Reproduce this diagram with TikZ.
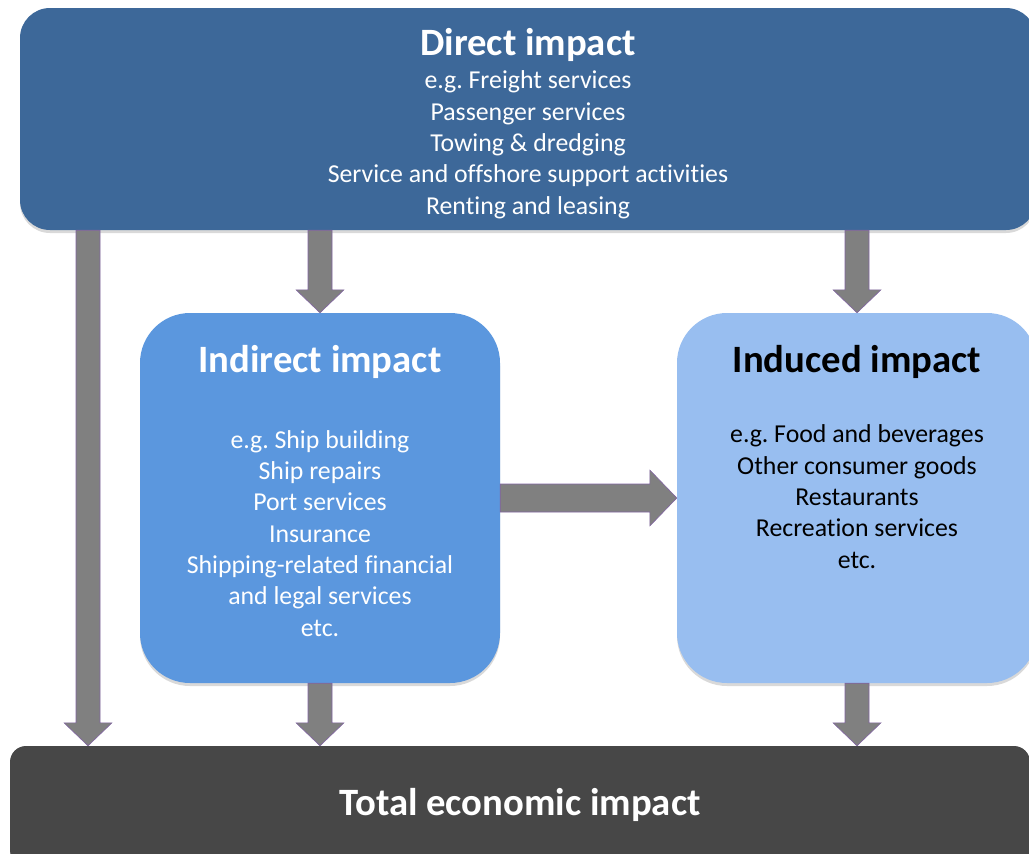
\documentclass[tikz,border=0pt]{standalone}
\usepackage{fontspec}
\setmainfont[Ligatures=NoCommon]{Carlito}
\frenchspacing
\usepackage{tikz}
\usetikzlibrary{calc,shadows}
\definecolor{directblue}{HTML}{3D6899}
\definecolor{indirectblue}{HTML}{5B97DE}
\definecolor{inducedblue}{HTML}{98BEF0}
\definecolor{totalgrey}{HTML}{474747}
\definecolor{arrowgrey}{HTML}{808080}
\definecolor{arrowline}{HTML}{8064A2}
% block arrows between two named points
\newcommand{\blockdown}[2]{%
  \draw[blockarrow] ($(#1)+(-12,0)$) -- ($(#2)+(-12,-23)$) -- ($(#2)+(-24,-23)$)
    -- (#2) -- ($(#2)+(24,-23)$) -- ($(#2)+(12,-23)$) -- ($(#1)+(12,0)$) -- cycle;}
\newcommand{\blockright}[2]{%
  \draw[blockarrow] ($(#1)+(0,-14)$) -- ($(#2)+(-27,-14)$) -- ($(#2)+(-27,-28)$)
    -- (#2) -- ($(#2)+(-27,28)$) -- ($(#2)+(-27,14)$) -- ($(#1)+(0,14)$) -- cycle;}

\begin{document}
\begin{tikzpicture}[x=1pt,y=-1pt,
  box/.style={rectangle,inner sep=0pt,
    drop shadow={opacity=0.3,shadow xshift=0pt,shadow yshift=-3pt}},
  title/.style={font=\fontsize{38.7}{46}\selectfont\bfseries,anchor=base,inner sep=0pt},
  body/.style={font=\fontsize{25.8}{31.3}\selectfont,align=center,anchor=base,inner sep=0pt},
  blockarrow/.style={fill=arrowgrey,draw=arrowline,line width=0.6pt,line join=miter}]
  \useasboundingbox (0,0) rectangle (1029,854);
  \clip (0,0) rectangle (1029,854);

  \node[
    box,
    fill=directblue,
    rounded corners=30pt,
    minimum width=1016pt,
    minimum height=222pt] at (528,119) (direct) {};
  \node[
    box,
    fill=indirectblue,
    rounded corners=50pt,
    minimum width=360pt,
    minimum height=370pt] at (320,498) (indirect) {};
  \node[
    box,
    fill=inducedblue,
    rounded corners=50pt,
    minimum width=360pt,
    minimum height=370pt] at (857,498) (induced) {};
  \node[
    box,
    fill=totalgrey,
    rounded corners=16pt,
    minimum width=1020pt,
    minimum height=120pt] at (520,806) (total) {};

  % lists sit on the baseline of their last line
  \node[title,white] at (528,55) (directtitle) {Direct impact};
  \node[body,white] at (528,214) (directlist) {e.g. Freight services\\Passenger services\\Towing \& dredging\\Service and offshore support activities\\Renting and leasing};
  \node[title,white] at (320,372) (indirecttitle) {Indirect impact};
  \node[body,white] at (320,636) (indirectlist) {e.g. Ship building\\Ship repairs\\Port services\\Insurance\\Shipping-related financial\\and legal services\\etc.};
  \node[title,black] at (857,372) (inducedtitle) {Induced impact};
  \node[body,black] at (857,568) (inducedlist) {e.g. Food and beverages\\Other consumer goods\\Restaurants\\Recreation services\\etc.};
  \node[title,white] at (520,815) (totaltitle) {Total economic impact};

  \coordinate (L) at (88,0);
  \coordinate (A1) at (direct.south -| L);
  \coordinate (A2) at (total.north -| L);
  \coordinate (B1) at (direct.south -| indirect.north);
  \coordinate (C1) at (direct.south -| induced.north);
  \coordinate (D2) at (total.north -| indirect.south);
  \coordinate (E2) at (total.north -| induced.south);

  \blockdown{A1}{A2}
  \blockdown{B1}{indirect.north}
  \blockdown{C1}{induced.north}
  \blockdown{indirect.south}{D2}
  \blockdown{induced.south}{E2}
  \blockright{indirect.east}{induced.west}

\end{tikzpicture}
\end{document}
